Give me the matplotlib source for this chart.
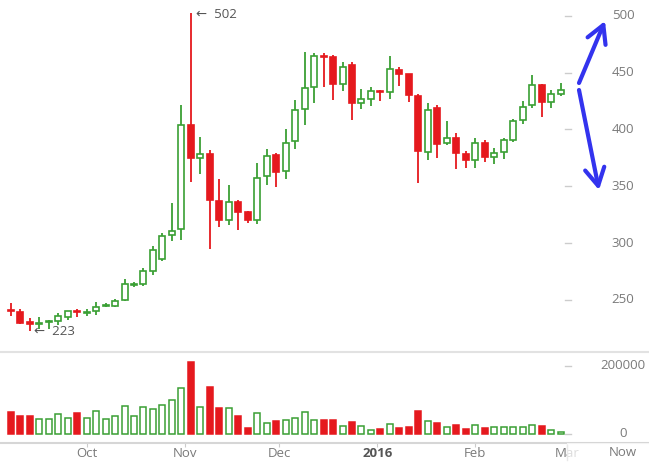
import matplotlib
matplotlib.use('Agg')
import matplotlib.pyplot as plt
import matplotlib.dates as mdates
from matplotlib.patches import Rectangle, FancyArrowPatch
import numpy as np
import pandas as pd

# 3-day candles, Sep 2015 - Feb 2016
dates = pd.date_range('2015-09-07', periods=59, freq='3D')
opens = [241, 239, 230.5, 229, 230.5, 231, 235, 240, 238.5, 240, 245, 245,
         250, 263, 264, 275, 286, 307, 312, 404, 375, 378.5, 337, 320, 336,
         327, 320, 359, 377, 363, 390, 417.5, 437, 464.5, 463.5, 439.5, 456.5,
         423, 427, 433.5, 433, 452, 448.5, 429.5, 380.5, 419, 388, 392, 378,
         373, 388, 376, 380.5, 391, 408, 421, 439, 424, 431.5]
highs = [247, 242, 234, 235, 232, 238, 240.5, 242, 242, 248, 247, 251,
         268, 266, 278, 297, 309, 335, 421, 502, 393, 382, 356, 351, 338,
         328.5, 370, 383, 379.5, 400.5, 426, 468, 467, 467, 465.5, 459.5, 459,
         435.5, 437, 435, 464.5, 454.5, 449, 431, 423.5, 421.5, 407, 397, 381,
         392, 390.5, 384, 392, 409, 425, 448, 439.5, 435, 440.5]
lows = [236, 229, 223, 224, 224, 228, 232, 235, 236, 237, 243.5, 243.5,
        249, 261, 262, 272, 284, 302, 303, 354, 361, 295, 314, 316, 311,
        318, 317, 351, 349, 356, 382.5, 404, 423, 437, 426, 434, 408,
        417.5, 420.5, 424.5, 426.5, 438, 424, 353, 373, 374.5, 386, 365, 366,
        366, 371.5, 369.5, 373.5, 389, 405, 418.5, 410.5, 418.5, 429.5]
closes = [240, 230, 229, 230, 231.5, 236, 240, 239, 239, 243.5, 245.5, 249,
          264, 264, 275, 294, 306, 310.5, 404, 375, 378.5, 338, 320, 336, 327,
          320, 357, 376.5, 362.5, 388, 417, 436.5, 464.5, 463.5, 439.5, 455, 423,
          426.5, 434, 432.5, 453, 449, 430, 381, 417, 387, 392, 379.5, 373,
          388, 376, 379.5, 391, 407.5, 420, 439, 424, 431.5, 435]
volumes = [66, 52, 52, 45, 45, 58, 48, 63, 48, 69, 45, 54,
           82, 52, 78, 73, 86, 100, 134, 211, 78, 139, 75, 75, 52,
           17, 63, 31, 38, 41, 48, 66, 41, 41, 41, 22.5, 34,
           22.5, 12.7, 13.7, 30, 17.6, 20.6, 68.6, 37, 31, 19.6, 27, 13.7,
           25.5, 17.6, 21.6, 21.6, 21.6, 21.6, 26.5, 23.5, 12.7, 7]
volumes = [v * 1000 for v in volumes]

price_ticks = [250, 300, 350, 400, 450, 500]
vol_ticks = [0, 200000]
month_ticks = ['2015-10-01', '2015-11-01', '2015-12-01', '2016-01-01', '2016-02-01', '2016-03-01']
month_labels = ['Oct', 'Nov', 'Dec', '2016', 'Feb', 'Mar']

RED = '#e5191e'
GREEN = '#3a9f34'
GRAY = '#7a7a7a'
FONT = ['Open Sans', 'DejaVu Sans']
plt.rcParams['font.family'] = FONT

x = mdates.date2num(dates)
o = np.array(opens)
c = np.array(closes)
up = c >= o
width = 1.9

fig = plt.figure(figsize=(6.49, 4.62), dpi=100)
W, H = 649.0, 462.0
ax = fig.add_axes([0, (H - 352) / H, 1, 352 / H])
axv = fig.add_axes([0, (H - 443) / H, 1, 91 / H], sharex=ax)

# candles
colors = [GREEN if u else RED for u in up]
ax.vlines(x, lows, highs, colors=colors, linewidth=1.3, zorder=1)
bottoms = np.minimum(o, c)
heights = np.maximum(np.abs(c - o), 0.6)
ax.bar(x, heights, width=width, bottom=bottoms,
       color=['white' if u else RED for u in up], edgecolor=colors,
       linewidth=1.2, zorder=2)
ax.set_ylim(204.1, 513.8)
ax.set_xlim(mdates.date2num(pd.Timestamp('2015-09-03 14:00')),
            mdates.date2num(pd.Timestamp('2016-03-27')))
ax.axis('off')

# price labels on the right
for p in price_ticks:
    ax.text(623 / W, p, str(p), transform=ax.get_yaxis_transform(),
            ha='center', va='center', fontsize=9.5, color=GRAY)
    ax.plot([565 / W, 571 / W], [p, p], transform=ax.get_yaxis_transform(),
            color='#cccccc', linewidth=1)

# high / low notes
i_hi = int(np.argmax(highs))
i_lo = int(np.argmin(lows))
ax.annotate('\u2190  502', xy=(x[i_hi], highs[i_hi]), xytext=(4, -1),
            textcoords='offset points', ha='left', va='center',
            fontsize=9.5, color='#555555')
ax.annotate('\u2190  223', xy=(x[i_lo], lows[i_lo]), xytext=(3, -1),
            textcoords='offset points', ha='left', va='center',
            fontsize=9.5, color='#555555')

# volume
axv.bar(x, volumes, width=width, color=['white' if u else RED for u in up],
        edgecolor=colors, linewidth=1.1)
axv.set_ylim(-26500, 241000)
for v in vol_ticks:
    axv.text(623 / W, v, str(v), transform=axv.get_yaxis_transform(),
             ha='center', va='center', fontsize=9.5, color=GRAY)
    axv.plot([565 / W, 571 / W], [v, v], transform=axv.get_yaxis_transform(),
             color='#cccccc', linewidth=1)
for s in ['left', 'right']:
    axv.spines[s].set_visible(False)
axv.spines['top'].set_color('#e2e2e2')
axv.spines['top'].set_linewidth(1.5)
axv.spines['bottom'].set_color('#d6d6d6')
axv.spines['bottom'].set_linewidth(1.5)
axv.set_yticks([])
axv.set_xticks(mdates.date2num(pd.to_datetime(month_ticks)))
axv.set_xticklabels(month_labels)
axv.tick_params(axis='x', length=3, color='#cccccc', labelsize=9.5,
                labelcolor=GRAY, pad=0)
for lbl in axv.get_xticklabels():
    if lbl.get_text() == '2016':
        lbl.set_fontweight('bold')
        lbl.set_color('#555555')

# faded strip over the right end of the date axis
fig.patches.append(Rectangle((567 / W, 0), 82 / W, 19 / H, transform=fig.transFigure,
                             facecolor='white', alpha=0.75, edgecolor='none', zorder=5))
fig.add_artist(plt.Line2D([567 / W, 567 / W], [2 / H, 17 / H], transform=fig.transFigure,
                          color='#e8e8e8', linewidth=1, zorder=6))
fig.text(623 / W, (H - 452) / H, 'Now', ha='center', va='center', fontsize=9.5,
         color=GRAY, zorder=7)

# hand drawn blue arrows
arrow = dict(arrowstyle='->, head_length=0.9, head_width=0.5', color='#3333ee',
             linewidth=3, shrinkA=0, shrinkB=0, mutation_scale=14,
             capstyle='round', joinstyle='round')
fig.add_artist(FancyArrowPatch(
    (579 / W, (H - 83) / H), (605 / W, (H - 21) / H), transform=fig.transFigure, **arrow))
fig.add_artist(FancyArrowPatch(
    (579 / W, (H - 90) / H), (599 / W, (H - 190) / H), transform=fig.transFigure, **arrow))

plt.savefig('out.png', dpi=100)
plt.close()
